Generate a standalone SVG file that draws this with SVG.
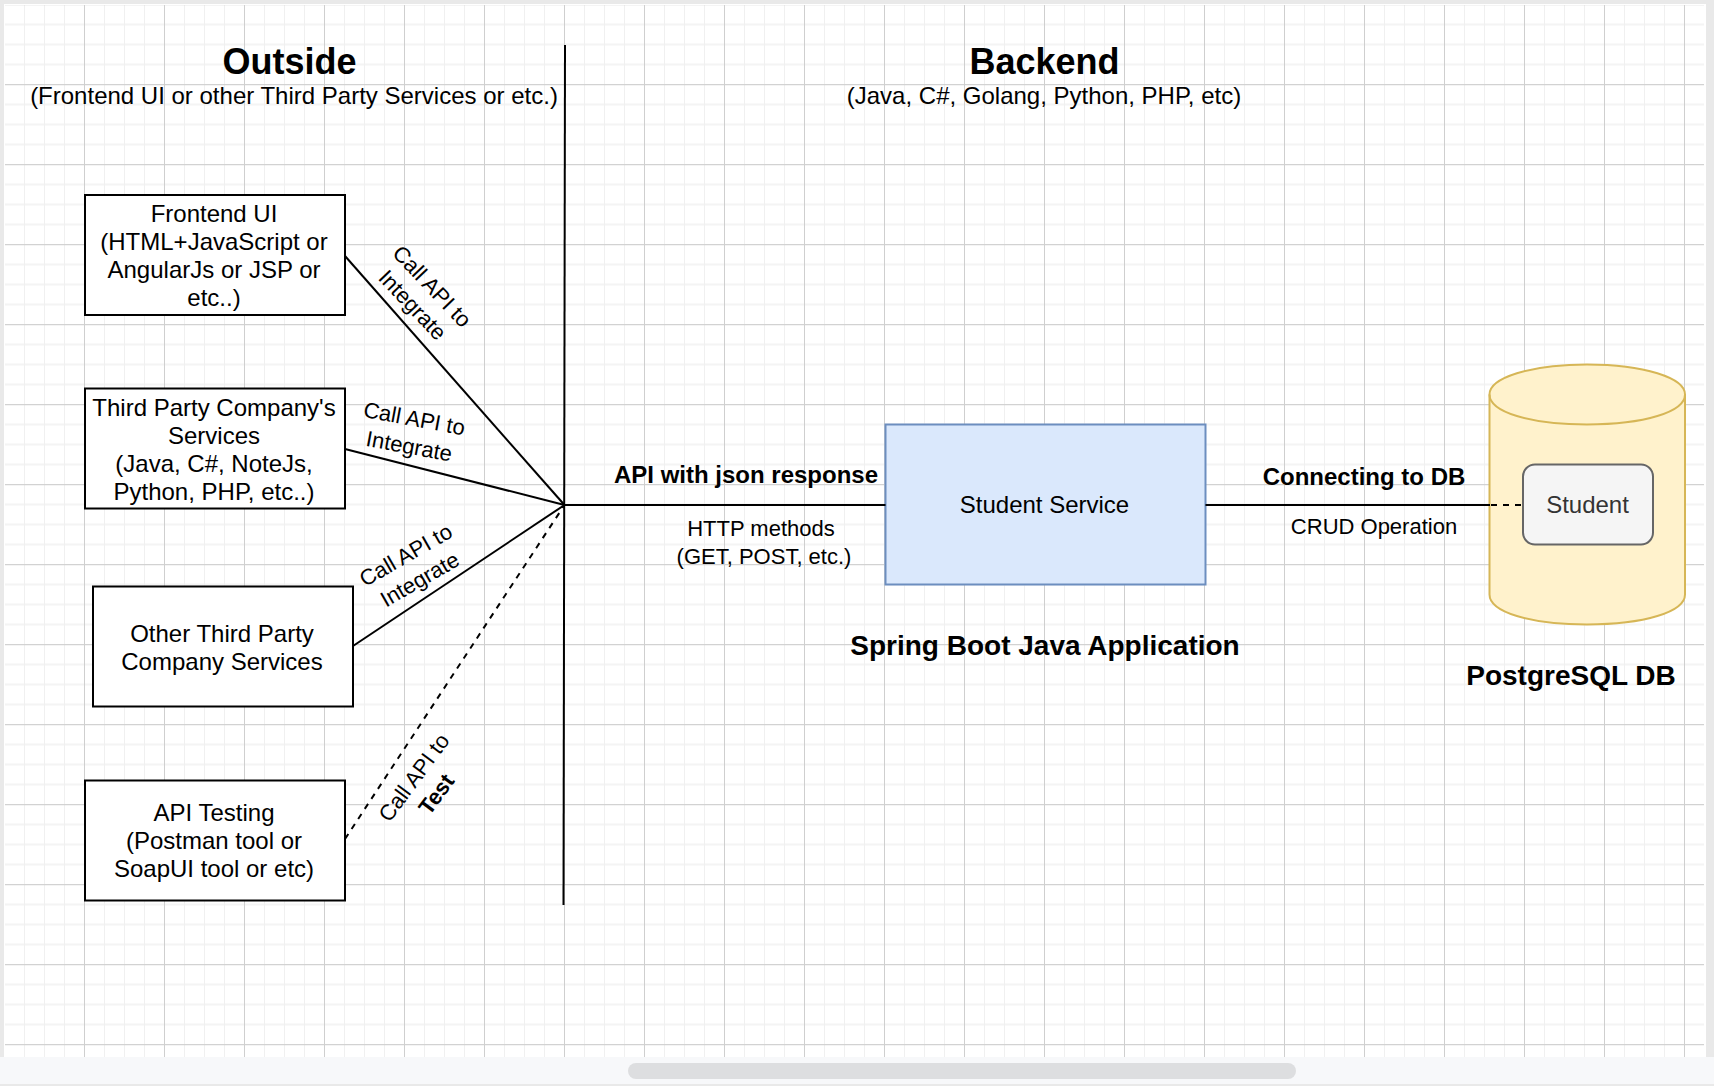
<svg xmlns="http://www.w3.org/2000/svg" width="1714" height="1086" viewBox="0 0 1714 1086">
<style>
text{font-family:"Liberation Sans",Arial,Helvetica,sans-serif;fill:#000;text-anchor:middle}
.t{font-size:36px;font-weight:700}
.s{font-size:24px}
.b{font-size:24px;font-weight:700}
.h{font-size:28px;font-weight:700}
.l{font-size:22px}
.box{fill:#fff;stroke:#000;stroke-width:2}
.c{fill:none;stroke:#000;stroke-width:2}
.d{stroke-dasharray:6 6}
</style>
<defs>
<pattern id="g" x="4" y="4" width="80" height="80" patternUnits="userSpaceOnUse">
<path d="M0 20.5H80M0 40.5H80M0 60.5H80" fill="none" stroke="#f4f4f4" stroke-width="2"/>
<path d="M20.5 0V80M40.5 0V80M60.5 0V80" fill="none" stroke="#f0f0f0" stroke-width="1"/>
<path d="M0 0.5H80" fill="none" stroke="#d2d2d2" stroke-width="1.5"/>
<path d="M0.5 0V80" fill="none" stroke="#cfcfcf" stroke-width="1"/>
</pattern>
</defs>
<rect id="frame" width="1714" height="1086" fill="#e9e9e9"/>
<rect id="canvas" x="4" y="4" width="1702" height="1054" fill="#fff"/>
<rect id="grid" x="5" y="5" width="1699" height="1053" fill="url(#g)"/>
<rect id="scrollbar" x="0" y="1057" width="1714" height="27" fill="#f7f8fa"/>
<rect id="scrollthumb" x="628" y="1063" width="668" height="16" rx="8" fill="#dddee0"/>

<g id="titles">
<text class="t" x="289.500" y="74">Outside</text>
<text class="s" x="294" y="104">(Frontend UI or other Third Party Services or etc.)</text>
<text class="t" x="1044.500" y="74">Backend</text>
<text class="s" x="1044" y="104">(Java, C#, Golang, Python, PHP, etc)</text>
</g>

<g id="frontend-ui">
<rect class="box" x="85" y="195" width="260" height="120"/>
<text class="s" x="214" y="222">Frontend UI</text>
<text class="s" x="214" y="250">(HTML+JavaScript or</text>
<text class="s" x="214" y="278">AngularJs or JSP or</text>
<text class="s" x="214" y="306">etc..)</text>
</g>
<g id="third-party-company">
<rect class="box" x="85" y="388.500" width="260" height="120"/>
<text class="s" x="214" y="416">Third Party Company's</text>
<text class="s" x="214" y="444">Services</text>
<text class="s" x="214" y="472">(Java, C#, NoteJs,</text>
<text class="s" x="214" y="500">Python, PHP, etc..)</text>
</g>
<g id="other-third-party">
<rect class="box" x="93" y="586.500" width="260" height="120"/>
<text class="s" x="222" y="642">Other Third Party</text>
<text class="s" x="222" y="670">Company Services</text>
</g>
<g id="api-testing">
<rect class="box" x="85" y="780.500" width="260" height="120"/>
<text class="s" x="214" y="821">API Testing</text>
<text class="s" x="214" y="849">(Postman tool or</text>
<text class="s" x="214" y="877">SoapUI tool or etc)</text>
</g>

<g id="label-frontend" transform="translate(423 295) rotate(46.500)">
<text class="l" x="0" y="-5">Call API to</text>
<text class="l" x="0" y="22">Integrate</text>
</g>
<g id="label-third" transform="translate(412 431) rotate(10.500)">
<text class="l" x="0" y="-5">Call API to</text>
<text class="l" x="0" y="23">Integrate</text>
</g>
<g id="label-other" transform="translate(412 566) rotate(-30)">
<text class="l" x="0" y="-5">Call API to</text>
<text class="l" x="0" y="23">Integrate</text>
</g>
<g id="label-test" transform="translate(424 785) rotate(-53.500)">
<text class="l" x="0" y="-5">Call API to</text>
<text class="l" x="0" y="23" font-weight="700">Test</text>
</g>

<g id="student-service">
<rect x="885.500" y="424.500" width="320" height="160" fill="#dae8fc" stroke="#6c8ebf" stroke-width="2"/>
<text class="s" x="1044.500" y="513">Student Service</text>
</g>
<text id="api-label" class="b" x="746" y="483">API with json response</text>
<g id="http-label">
<text class="l" x="761" y="536">HTTP methods</text>
<text class="l" x="764" y="564">(GET, POST, etc.)</text>
</g>
<text id="spring-label" class="h" x="1045" y="655">Spring Boot Java Application</text>
<text id="db-label" class="b" x="1364" y="485">Connecting to DB</text>
<text id="crud-label" class="l" x="1374" y="534">CRUD Operation</text>

<g id="postgres-db">
<path d="M1489.500 394.500C1489.500 378 1530 364.500 1587 364.500C1644 364.500 1685 378 1685 394.500V594.500C1685 612 1644 624.500 1587 624.500C1530 624.500 1489.500 612 1489.500 594.500Z" fill="#fff2cc" stroke="#d6b656" stroke-width="2"/>
<path d="M1489.500 394.500C1489.500 412 1530 424.500 1587 424.500C1644 424.500 1685 412 1685 394.500" fill="none" stroke="#d6b656" stroke-width="2"/>
</g>
<g id="student-table">
<rect x="1523" y="464.500" width="130" height="80" rx="12" fill="#f5f5f5" stroke="#666" stroke-width="2"/>
<text class="s" x="1587.500" y="513" style="fill:#333">Student</text>
</g>
<text id="postgres-label" class="h" x="1571" y="685">PostgreSQL DB</text>

<g id="connectors">
<path class="c" d="M565 45L563.500 905"/>
<path class="c" d="M345 256L564.500 505"/>
<path class="c" d="M345 449L564.500 505"/>
<path class="c" d="M353 646L564.500 505"/>
<path class="c d" d="M345 839L564.500 505"/>
<path class="c" d="M564.500 505H885.500"/>
<path class="c" d="M1205.500 505H1490"/>
<path class="c d" d="M1491 505H1523"/>
</g>
</svg>
